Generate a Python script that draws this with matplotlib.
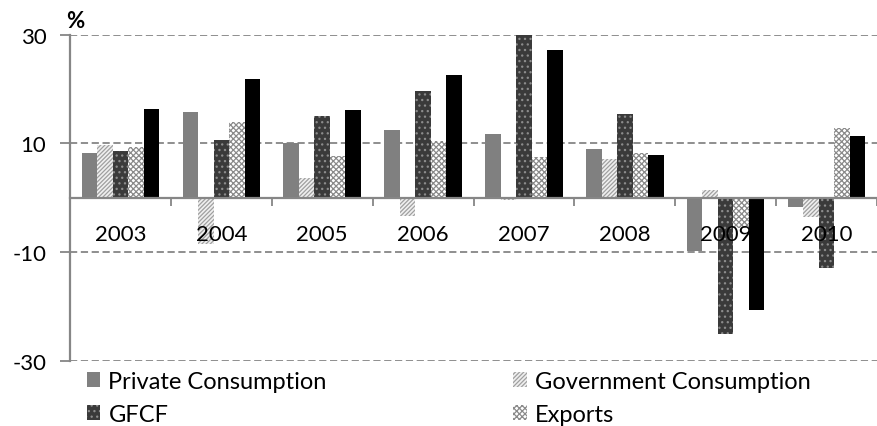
import numpy as np
import matplotlib.pyplot as plt

plt.rcParams['font.family'] = ['Lato', 'DejaVu Sans']
plt.rcParams['axes.unicode_minus'] = False
plt.rcParams['hatch.linewidth'] = 0.9

years = ['2003', '2004', '2005', '2006', '2007', '2008', '2009', '2010']
private_cons = [8.2, 15.7, 10.1, 12.5, 11.8, 9.0, -9.9, -1.8]
gov_cons = [9.7, -8.5, 3.6, -3.4, -0.5, 7.1, 1.4, -3.5]
gfcf = [8.6, 10.7, 15.0, 19.7, 30.0, 15.4, -25.1, -12.9]
exports = [9.4, 14.0, 7.6, 10.4, 7.5, 8.2, -5.5, 12.8]
imports = [16.4, 21.8, 16.1, 22.5, 27.2, 7.9, -20.7, 11.4]

series = [
    ('Private Consumption', private_cons, dict(facecolor='#808080', edgecolor='#808080', hatch=None)),
    ('Government Consumption', gov_cons, dict(facecolor='#f0f0f0', edgecolor='#a0a0a0', hatch='////////')),
    ('GFCF', gfcf, dict(facecolor='#3a3a3a', edgecolor='#8c8c8c', hatch='...')),
    ('Exports', exports, dict(facecolor='#ffffff', edgecolor='#8a8a8a', hatch='xxxxxx')),
    ('Imports', imports, dict(facecolor='#000000', edgecolor='#000000', hatch=None)),
]

fs_tick = 16
fs_leg = 17
grey = '#868686'

fig = plt.figure(figsize=(8.77, 4.27), dpi=100)
ax = fig.add_axes([70 / 877, 1 - 361.7 / 427, 807 / 877, 326 / 427])

x = np.arange(len(years))
w = 1 / 6.5
handles = {}
for i, (name, vals, style) in enumerate(series):
    b = ax.bar(x + (i - 2) * w, vals, w, linewidth=0, zorder=2, **style)
    handles[name] = b

ax.set_xlim(-0.5, len(years) - 0.5)
ax.set_ylim(-30, 30)
ax.set_yticks([-30, -10, 10, 30])
ax.yaxis.set_zorder(0.5)
ax.grid(axis='y', color=grey, linestyle=(0, (4, 2)), linewidth=1.3)
ax.tick_params(axis='y', length=7, width=1.3, color=grey, pad=10, labelsize=fs_tick)

ax.spines['top'].set_visible(False)
ax.spines['right'].set_visible(False)
ax.spines['left'].set_color(grey)
ax.spines['left'].set_linewidth(1.6)
ax.spines['bottom'].set_position(('data', 0))
ax.spines['bottom'].set_color(grey)
ax.spines['bottom'].set_linewidth(1.6)
ax.spines['bottom'].set_zorder(3)

ax.set_xticks(x)
ax.set_xticklabels(years)
ax.set_xticks(np.arange(len(years)) + 0.5, minor=True)
ax.tick_params(axis='x', which='major', length=0, pad=19, labelsize=fs_tick)
ax.tick_params(axis='x', which='minor', length=6, width=1.3, color=grey, direction='out')
ax.xaxis.set_zorder(3)

ax.text(0.006, 1.045, '%', transform=ax.transAxes, ha='center', va='center',
        fontsize=fs_tick, fontweight='bold')

order = ['Private Consumption', 'GFCF', 'Imports', 'Government Consumption', 'Exports']
fig.legend([handles[n] for n in order], order, ncol=2, loc='upper left',
           bbox_to_anchor=(87 / 877, 1 - 372 / 427), frameon=False, fontsize=fs_leg,
           handlelength=0.56, handleheight=0.56, handletextpad=0.35,
           columnspacing=7.9, labelspacing=0.5, borderpad=0, borderaxespad=0)

fig.savefig('out.png', dpi=100)
